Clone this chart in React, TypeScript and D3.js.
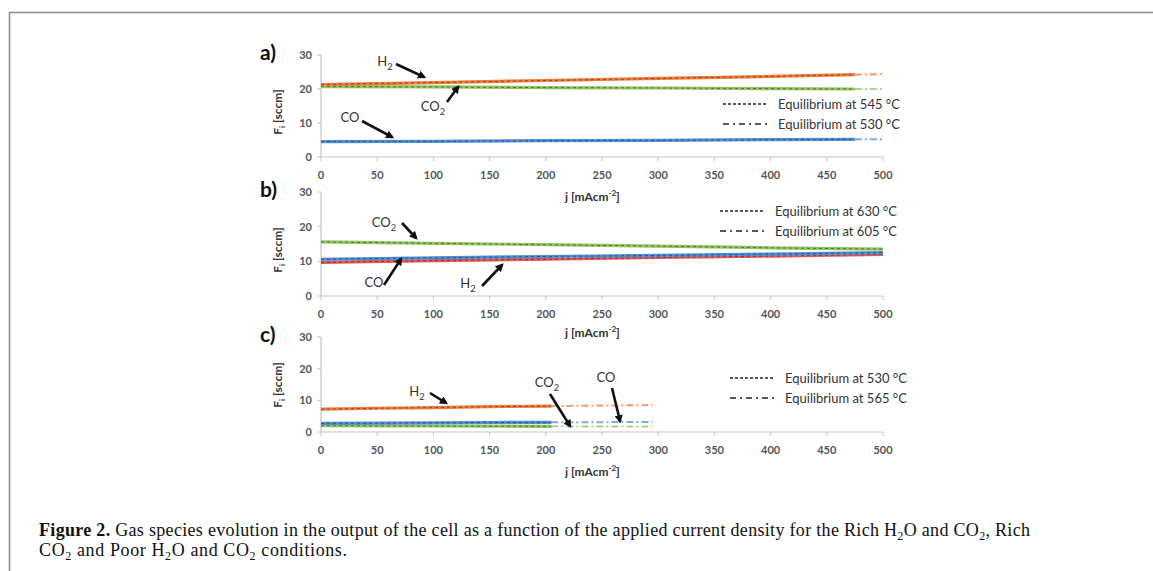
import React from 'react';
import * as d3 from 'd3';

// x axis (current density) shared by all three panels
const xTicks = [0, 50, 100, 150, 200, 250, 300, 350, 400, 450, 500];
const yTicks = [0, 10, 20, 30];

// panel a) rich H2O and CO2
const aJ = [0, 100, 200, 300, 400, 475];
const aH2 = [21.3, 21.9, 22.5, 23.1, 23.7, 24.2];
const aCO2 = [20.7, 20.6, 20.4, 20.3, 20.1, 20.0];
const aCO = [4.5, 4.6, 4.8, 4.9, 5.1, 5.2];
const aTailJ = [475, 500];
const aTailH2 = [24.2, 24.4];
const aTailCO2 = [20.0, 20.0];
const aTailCO = [5.2, 5.2];

// panel b) rich CO2
const bJ = [0, 100, 200, 300, 400, 500];
const bCO2 = [15.6, 15.2, 14.8, 14.4, 13.9, 13.5];
const bCO = [10.6, 11.0, 11.4, 11.7, 12.1, 12.5];
const bH2 = [9.7, 10.2, 10.6, 11.1, 11.5, 12.0];

// panel c) poor H2O and CO2
const cJ = [0, 50, 100, 150, 205];
const cH2 = [7.2, 7.5, 7.7, 8.0, 8.2];
const cCO = [2.7, 2.8, 2.9, 3.0, 3.05];
const cCO2 = [2.0, 1.95, 1.9, 1.85, 1.8];
const cTailJ = [205, 250, 295];
const cTailH2 = [8.2, 8.35, 8.5];
const cTailCO = [3.05, 3.1, 3.2];
const cTailCO2 = [1.8, 1.75, 1.7];

const legendA = ['Equilibrium at 545 °C', 'Equilibrium at 530 °C'];
const legendB = ['Equilibrium at 630 °C', 'Equilibrium at 605 °C'];
const legendC = ['Equilibrium at 530 °C', 'Equilibrium at 565 °C'];

const ORANGE = '#f27b3c';
const RED = '#e5585a';
const GREEN = '#92c561';
const BLUE = '#4f8fd6';
const CHART_FONT = 'Lato, "Open Sans", sans-serif';
const SERIF = '"Liberation Serif", serif';

const x = d3.scaleLinear().domain([0, 500]).range([321, 883]);

type Series = { j: number[]; v: number[]; color: string; tail?: boolean };
type Note = { text: string; sub?: string; tx: number; ty: number; from: [number, number]; to: [number, number] };

function Sub({ base, sub, ...rest }: any) {
  return (
    <text {...rest}>
      {base}
      {sub ? <tspan fontSize="0.72em" dy="4">{sub}</tspan> : null}
    </text>
  );
}

function Panel(props: {
  label: string; top: number; bottom: number; series: Series[]; legend: string[];
  legendX: number; legendY: number; notes: Note[]; titleY: number; fiY: number;
}) {
  const { label, top, bottom, series, legend, legendX, legendY, notes, titleY, fiY } = props;
  const y = d3.scaleLinear().domain([0, 30]).range([bottom, top]);
  const path = (s: Series) =>
    d3.line<[number, number]>().x(d => x(d[0])).y(d => y(d[1]))(s.j.map((j, i) => [j, s.v[i]] as [number, number])) || '';
  return (
    <g>
      {/* axes */}
      <line x1={x(0)} x2={x(0)} y1={y(30)} y2={y(0)} stroke="#c4c4c4" strokeWidth={1.2} />
      <line x1={x(0)} x2={x(500)} y1={y(0)} y2={y(0)} stroke="#c4c4c4" strokeWidth={1.2} />
      {yTicks.map(t => (
        <g key={'y' + t}>
          <line x1={x(0) - 4} x2={x(0)} y1={y(t)} y2={y(t)} stroke="#c4c4c4" />
          <text x={x(0) - 9} y={y(t) + 4} textAnchor="end" fontSize={11} fontWeight={700} fill="#555" fontFamily={CHART_FONT}>{t}</text>
        </g>
      ))}
      {xTicks.map(t => (
        <g key={'x' + t}>
          <line x1={x(t)} x2={x(t)} y1={y(0)} y2={y(0) + 4} stroke="#c4c4c4" />
          <text x={x(t)} y={y(0) + 22} textAnchor="middle" fontSize={11} fontWeight={700} fill="#555" fontFamily={CHART_FONT}>{t}</text>
        </g>
      ))}
      <text x={565} y={titleY} fontSize={12} fontWeight={700} fill="#333" fontFamily={CHART_FONT}>
        j [mAcm<tspan fontSize={8} dy={-5}>-2</tspan><tspan dy={5}>]</tspan>
      </text>
      <text transform={`translate(282,${fiY}) rotate(-90)`} textAnchor="middle" fontSize={12} fontWeight={700} fill="#333" fontFamily={CHART_FONT}>
        F<tspan fontSize={8} dy={3}>i</tspan><tspan dy={-3}> [sccm]</tspan>
      </text>
      <text x={260} y={top + 5} fontSize={21} fontWeight={700} fill="#111" fontFamily={CHART_FONT}>{label}</text>

      {/* series */}
      {series.map((s, i) => (
        <g key={'s' + i}>
          {s.tail ? (
            <path d={path(s)} fill="none" stroke={s.color} strokeWidth={2} strokeDasharray="7,3,2,3" opacity={0.75} />
          ) : (
            <>
              <path d={path(s)} fill="none" stroke={s.color} strokeWidth={3.2} />
              <path d={path(s)} fill="none" stroke="#222" strokeWidth={1} strokeDasharray="3,3" opacity={0.55} />
            </>
          )}
        </g>
      ))}

      {/* legend */}
      <line x1={legendX} x2={legendX + 45} y1={legendY} y2={legendY} stroke="#222" strokeWidth={1.4} strokeDasharray="3,2" />
      <line x1={legendX} x2={legendX + 45} y1={legendY + 20} y2={legendY + 20} stroke="#222" strokeWidth={1.4} strokeDasharray="6,4,2,4" />
      {legend.map((t, i) => (
        <text key={t + i} x={legendX + 55} y={legendY + 5 + i * 20} fontSize={13} fill="#333" fontFamily={CHART_FONT}>{t}</text>
      ))}

      {/* annotations */}
      {notes.map((n, i) => (
        <g key={'n' + i}>
          <Sub base={n.text} sub={n.sub} x={n.tx} y={n.ty} textAnchor="middle" fontSize={13} fill="#333" fontFamily={CHART_FONT} />
          <line x1={n.from[0]} y1={n.from[1]} x2={n.to[0]} y2={n.to[1]} stroke="#111" strokeWidth={2.6} markerEnd="url(#arrow)" />
        </g>
      ))}
    </g>
  );
}

export default function App() {
  return (
    <svg width={1153} height={571} style={{ position: 'absolute', left: 0, top: 0, background: '#fff' }}>
      <defs>
        <marker id="arrow" viewBox="0 0 10 10" refX={7} refY={5} markerWidth={3.2} markerHeight={3.2} orient="auto">
          <path d="M0,0 L10,5 L0,10 Z" fill="#111" />
        </marker>
      </defs>
      <rect x={0} y={0} width={1153} height={571} fill="#fff" />
      <path d="M9.5,580 L9.5,12.5 L1160,12.5" fill="none" stroke="#8c8c8c" strokeWidth={1.6} />

      <Panel
        label="a)" top={55} bottom={157} titleY={201} fiY={112}
        legend={legendA} legendX={723} legendY={104}
        series={[
          { j: aJ, v: aCO2, color: GREEN },
          { j: aJ, v: aH2, color: ORANGE },
          { j: aJ, v: aCO, color: BLUE },
          { j: aTailJ, v: aTailCO2, color: GREEN, tail: true },
          { j: aTailJ, v: aTailH2, color: ORANGE, tail: true },
          { j: aTailJ, v: aTailCO, color: BLUE, tail: true },
        ]}
        notes={[
          { text: 'H', sub: '2', tx: 385, ty: 66, from: [396, 64], to: [424, 77] },
          { text: 'CO', sub: '2', tx: 433, ty: 111, from: [447, 102], to: [458, 87] },
          { text: 'CO', tx: 350, ty: 122, from: [362, 121], to: [392, 137] },
        ]}
      />
      <Panel
        label="b)" top={192} bottom={296} titleY={337} fiY={250}
        legend={legendB} legendX={720} legendY={211}
        series={[
          { j: bJ, v: bCO2, color: GREEN },
          { j: bJ, v: bH2, color: RED },
          { j: bJ, v: bCO, color: BLUE },
        ]}
        notes={[
          { text: 'CO', sub: '2', tx: 384, ty: 227, from: [402, 223], to: [416, 238] },
          { text: 'CO', tx: 374, ty: 287, from: [384, 285], to: [401, 259] },
          { text: 'H', sub: '2', tx: 468, ty: 288, from: [482, 286], to: [502, 265] },
        ]}
      />
      <Panel
        label="c)" top={337} bottom={432} titleY={476} fiY={385}
        legend={legendC} legendX={730} legendY={378}
        series={[
          { j: cJ, v: cCO2, color: GREEN },
          { j: cJ, v: cCO, color: BLUE },
          { j: cJ, v: cH2, color: ORANGE },
          { j: cTailJ, v: cTailCO2, color: GREEN, tail: true },
          { j: cTailJ, v: cTailCO, color: BLUE, tail: true },
          { j: cTailJ, v: cTailH2, color: ORANGE, tail: true },
        ]}
        notes={[
          { text: 'H', sub: '2', tx: 417, ty: 396, from: [430, 393], to: [446, 403] },
          { text: 'CO', sub: '2', tx: 547, ty: 387, from: [550, 394], to: [570, 426] },
          { text: 'CO', tx: 606, ty: 382, from: [612, 388], to: [620, 421] },
        ]}
      />

      {/* caption */}
      <text x={39} y={536} fontSize={18} fill="#111" fontFamily={SERIF} textLength={991} lengthAdjust="spacing">
        <tspan fontWeight={700}>Figure 2.</tspan> Gas species evolution in the output of the cell as a function of the applied current density for the Rich H<tspan fontSize={12} dy={4}>2</tspan><tspan dy={-4}>O and CO</tspan><tspan fontSize={12} dy={4}>2</tspan><tspan dy={-4}>, Rich</tspan>
      </text>
      <text x={39} y={556} fontSize={18} fill="#111" fontFamily={SERIF} textLength={308} lengthAdjust="spacing">
        CO<tspan fontSize={12} dy={4}>2</tspan><tspan dy={-4}> and Poor H</tspan><tspan fontSize={12} dy={4}>2</tspan><tspan dy={-4}>O and CO</tspan><tspan fontSize={12} dy={4}>2</tspan><tspan dy={-4}> conditions.</tspan>
      </text>
    </svg>
  );
}
